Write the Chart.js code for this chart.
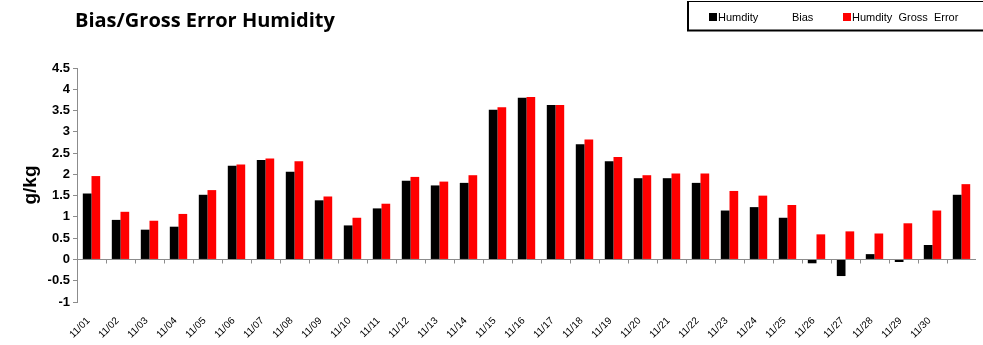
<!DOCTYPE html>
<html>
<head>
<meta charset="utf-8">
<script src="https://cdn.jsdelivr.net/npm/chart.js@4"></script>
<style>
  html, body { margin: 0; padding: 0; background: #fff; }
  #wrap { width: 983px; height: 345px; position: relative; }
</style>
</head>
<body>
<div id="wrap"><canvas id="myChart" width="983" height="345"></canvas></div>
<script>
// data
let dias = ['11/01','11/02','11/03','11/04','11/05','11/06','11/07','11/08','11/09','11/10',
            '11/11','11/12','11/13','11/14','11/15','11/16','11/17','11/18','11/19','11/20',
            '11/21','11/22','11/23','11/24','11/25','11/26','11/27','11/28','11/29','11/30',''];
let sesgo = [1.55, 0.93, 0.70, 0.77, 1.52, 2.20, 2.34, 2.06, 1.39, 0.80,
             1.20, 1.85, 1.74, 1.80, 3.52, 3.80, 3.63, 2.71, 2.31, 1.91,
             1.91, 1.80, 1.15, 1.23, 0.98, -0.09, -0.39, 0.125, -0.06, 0.34, 1.52];
let errorBruto = [1.96, 1.12, 0.91, 1.07, 1.63, 2.23, 2.37, 2.31, 1.48, 0.98,
                  1.31, 1.94, 1.83, 1.98, 3.58, 3.82, 3.63, 2.82, 2.41, 1.98,
                  2.02, 2.02, 1.61, 1.50, 1.28, 0.59, 0.66, 0.61, 0.85, 1.15, 1.77];
let etiquetas = ['Humdity           Bias', 'Humdity  Gross  Error'];
let titulo = 'Bias/Gross Error Humidity';
let yMin = -1, yMax = 4.5, yPaso = 0.5;

// title, legend box and zero line with its ticks
let extras = {
  id: 'extras',
  afterDraw(chart){
    let ctx = chart.ctx;
    let x = chart.scales.x, y = chart.scales.y;
    let area = chart.chartArea;
    ctx.save();
    // zero line
    let y0 = Math.round(y.getPixelForValue(0)) + 0.5;
    ctx.strokeStyle = '#8c8c8c';
    ctx.lineWidth = 1;
    ctx.beginPath();
    ctx.moveTo(area.left, y0);
    ctx.lineTo(area.right, y0);
    let paso = (x.getPixelForValue(1) - x.getPixelForValue(0));
    for(let i = 1; i < dias.length; i++){
      let px = Math.round(x.getPixelForValue(i) - paso/2) + 0.5;
      ctx.moveTo(px, y0);
      ctx.lineTo(px, y0 + 4);
    }
    ctx.stroke();

    // title
    ctx.fillStyle = '#000';
    ctx.font = 'bold 20px "Open Sans"';
    ctx.textBaseline = 'middle';
    ctx.textAlign = 'left';
    ctx.fillText(titulo, 75, 21);

    // legend box
    ctx.strokeStyle = '#000';
    ctx.lineWidth = 1;
    ctx.strokeRect(687.5, 1.5, 310, 29);
    ctx.lineWidth = 2;
    ctx.beginPath();
    ctx.moveTo(688, 1); ctx.lineTo(688, 31);
    ctx.moveTo(687, 30.5); ctx.lineTo(983, 30.5);
    ctx.stroke();
    ctx.font = '11px "Liberation Sans"';
    let posX = [709, 843];
    chart.data.datasets.forEach(function(ds, i){
      ctx.fillStyle = ds.backgroundColor;
      ctx.fillRect(posX[i], 13, 8, 8);
      ctx.fillStyle = '#000';
      ctx.fillText(etiquetas[i], posX[i] + 9, 17.5);
    });
    ctx.restore();
  }
};

let ctx = document.getElementById('myChart').getContext('2d');
let chart = new Chart(ctx, {
  type: 'bar',
  data: {
    labels: dias,
    datasets: [{
      label: etiquetas[0],
      backgroundColor: '#000000',
      data: sesgo
    },{
      label: etiquetas[1],
      backgroundColor: '#ff0000',
      data: errorBruto
    }]
  },
  options: {
    responsive: false,
    animation: false,
    layout: { padding: { left: 0, right: 7, top: 68, bottom: 3 } },
    plugins: { legend: { display: false }, tooltip: { enabled: false } },
    datasets: { bar: { categoryPercentage: 0.6, barPercentage: 1.0 } },
    scales: {
      x: {
        afterFit: function(scale){ scale.height = 40; },
        grid: { display: false },
        border: { display: false },
        ticks: {
          color: '#000',
          font: { family: 'Liberation Sans', size: 10 },
          minRotation: 45, maxRotation: 45,
          autoSkip: false, padding: 5, labelOffset: -3
        }
      },
      y: {
        min: yMin, max: yMax,
        afterFit: function(scale){ scale.width = 77; },
        grid: { drawOnChartArea: false, tickLength: 4, color: '#8c8c8c' },
        border: { color: '#8c8c8c' },
        ticks: {
          stepSize: yPaso, color: '#000', padding: 3,
          font: { family: 'Liberation Sans', size: 13, weight: 'bold' },
          callback: function(v){ return String(Math.round(v * 10) / 10); }
        },
        title: {
          display: true, text: 'g/kg', color: '#000',
          font: { family: 'Liberation Sans', size: 19, weight: 'bold' },
          padding: { top: 19, bottom: 0 }
        }
      }
    }
  },
  plugins: [extras]
});
</script>
</body>
</html>
